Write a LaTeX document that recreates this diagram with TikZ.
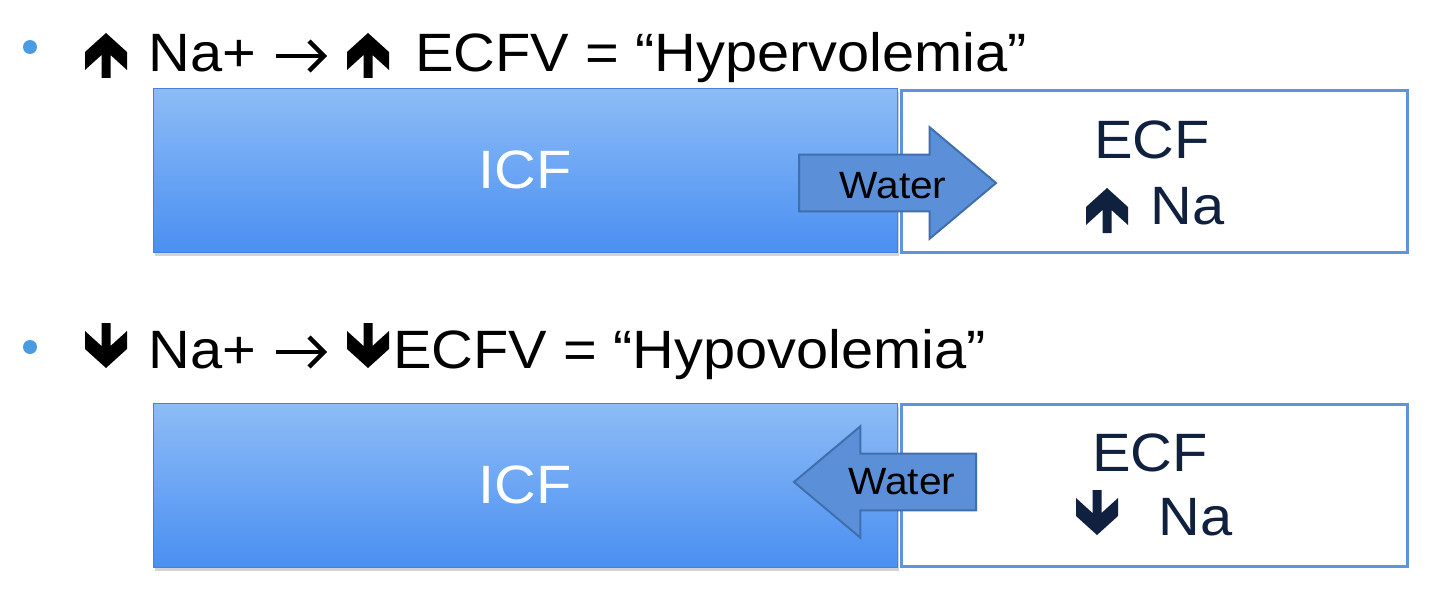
\documentclass[tikz,border=0pt]{standalone}
\usepackage{fontspec}
\setmainfont[FakeStretch=1.07]{Liberation Sans}
\usetikzlibrary{shapes,arrows,positioning,shadows}
\definecolor{bulletblue}{HTML}{4A9BE0}
\definecolor{icftop}{HTML}{8DBCF6}
\definecolor{icfbot}{HTML}{4A8FF2}
\definecolor{ecfline}{HTML}{5D94DC}
\definecolor{waterfill}{HTML}{5B8FD8}
\definecolor{waterline}{HTML}{3F6FAE}
\definecolor{navy}{HTML}{10213F}

\tikzset{
  bigtext/.style={font=\fontsize{27}{32}\selectfont, inner sep=0pt},
  icfbox/.style={rectangle, top color=icftop, bottom color=icfbot, draw=icfbot!90!black, line width=0.3pt,
    minimum width=372pt, minimum height=82pt, anchor=north west, text=white,
    font=\fontsize{27}{32}\selectfont,
    drop shadow={opacity=0.35, shadow xshift=1pt, shadow yshift=-2pt}},
  ecfbox/.style={rectangle, draw=ecfline, line width=1.5pt, fill=white, anchor=north west,
    minimum width=253pt, minimum height=81pt},
  waterarrow/.style={single arrow, draw=waterline, line width=1pt, fill=waterfill,
    single arrow head extend=13.75pt, single arrow tip angle=80,
    inner xsep=2pt, inner ysep=7pt, font=\fontsize{19}{22}\selectfont, anchor=tail},
  waterlabel/.style={font=\fontsize{19}{22}\selectfont, inner sep=0pt},
  uparr/.pic={\fill (0,0) -- (21,19) -- (21,37) -- (4.5,22) -- (4.5,45) -- (-4.5,45) -- (-4.5,22)
    -- (-21,37) -- (-21,19) -- cycle;},
  downarr/.pic={\fill (0,45) -- (21,26) -- (21,8) -- (4.5,23) -- (4.5,0) -- (-4.5,0) -- (-4.5,23)
    -- (-21,8) -- (-21,26) -- cycle;},
  thinarr/.pic={\draw[line width=2.2pt] (0,0) -- (47,0);
    \draw[line width=2.2pt, line join=miter] (33,-15) -- (48,0) -- (33,15);}
}

\begin{document}
\begin{tikzpicture}[x=0.5pt, y=-0.5pt]
  \useasboundingbox (0,0) rectangle (1440,615);

  % first bullet: hypervolemia
  \fill[bulletblue] (30,47) circle (7);
  \pic at (106,33) {uparr};
  \node (na1) [bigtext, anchor=base west] at (148,72) {Na+};
  \pic at (276,56) {thinarr};
  \pic at (368,33) {uparr};
  \node (ecfv1) [bigtext, anchor=base west] at (415,72) {ECFV = “Hypervolemia”};

  \node (icf1) [icfbox] at (153,88) {ICF};
  \node (ecf1) [ecfbox] at (900,89) {};
  \node (lab1) [bigtext, text=navy] at (1152,140) {ECF};
  \pic[navy] at (1107,188) {uparr};
  \node (na3) [bigtext, text=navy, anchor=base west] at (1150,224) {Na};
  \node (water1) [waterarrow, minimum height=98.5pt] at (798,183) {\phantom{Water}};
  \node (wlab1) [waterlabel] at (893,186) {Water};

  % second bullet: hypovolemia
  \fill[bulletblue] (30,347) circle (7);
  \pic at (106,323) {downarr};
  \node (na2) [bigtext, anchor=base west] at (148,368) {Na+};
  \pic at (276,352) {thinarr};
  \pic at (368,323) {downarr};
  \node (ecfv2) [bigtext, anchor=base west] at (393,368) {ECFV = “Hypovolemia”};

  \node (icf2) [icfbox] at (153,403) {ICF};
  \node (ecf2) [ecfbox] at (900,403) {};
  \node (lab2) [bigtext, text=navy] at (1150,453) {ECF};
  \pic[navy] at (1097,490) {downarr};
  \node (na4) [bigtext, text=navy, anchor=base west] at (1158,535) {Na};
  \node (water2) [waterarrow, minimum height=91pt, shape border rotate=180] at (977,482) {Water};
\end{tikzpicture}
\end{document}
